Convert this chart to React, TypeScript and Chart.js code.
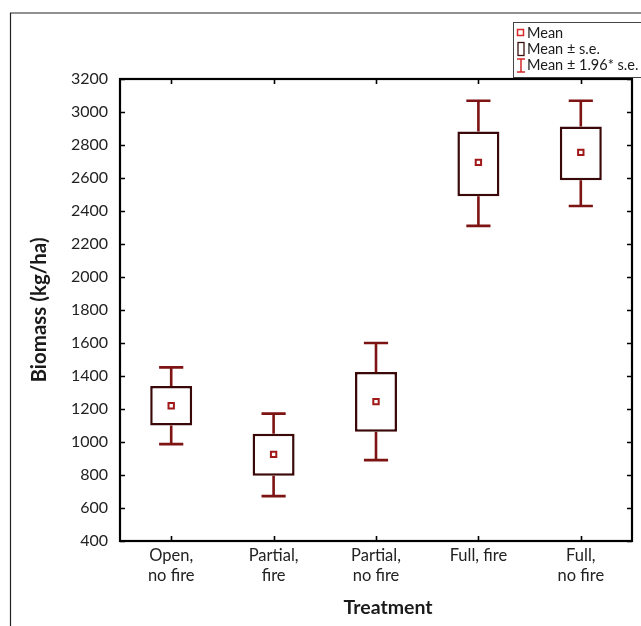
import React, { useEffect, useRef } from "react";
import { Chart, registerables } from "chart.js";

Chart.register(...registerables);

const categories: (string | string[])[] = [
  ["Open,", "no fire"],
  ["Partial,", "fire"],
  ["Partial,", "no fire"],
  "Full, fire",
  ["Full,", "no fire"],
];
const means = [1220, 925, 1245, 2695, 2755];
const seLow = [1100, 795, 1062, 2490, 2587];
const seHigh = [1340, 1050, 1425, 2882, 2912];
const ciLow = [987, 672, 890, 2310, 2430];
const ciHigh = [1452, 1172, 1600, 3068, 3068];
const yMin = 400;
const yMax = 3200;
const yStep = 200;
const xTitle = "Treatment";
const yTitle = "Biomass (kg/ha)";
const legendItems = ["Mean", "Mean \u00b1 s.e.", "Mean \u00b1 1.96* s.e."];

const BOX = "#3a0808";
const WHISK = "#7e1313";
const MEAN = "#a01818";
const LEG_RED = "#d42a2a";
const FONT = "Lato";

const decorPlugin = {
  id: "decor",
  afterDatasetsDraw(chart: any) {
    const ctx = chart.ctx;
    const xs = chart.scales.x;
    const ys = chart.scales.y;
    const catW = xs.getPixelForValue(1) - xs.getPixelForValue(0);
    const half = catW * 0.118;
    ctx.save();
    ctx.strokeStyle = WHISK;
    ctx.lineWidth = 2.6;
    ctx.lineCap = "butt";
    categories.forEach((_, i) => {
      const cx = xs.getPixelForValue(i);
      const yTop = ys.getPixelForValue(ciHigh[i]);
      const yBoxTop = ys.getPixelForValue(seHigh[i]);
      const yBoxBot = ys.getPixelForValue(seLow[i]);
      const yBot = ys.getPixelForValue(ciLow[i]);
      ctx.beginPath();
      ctx.moveTo(cx, yTop);
      ctx.lineTo(cx, yBoxTop);
      ctx.moveTo(cx, yBoxBot);
      ctx.lineTo(cx, yBot);
      ctx.moveTo(cx - half, yTop);
      ctx.lineTo(cx + half, yTop);
      ctx.moveTo(cx - half, yBot);
      ctx.lineTo(cx + half, yBot);
      ctx.stroke();
    });
    ctx.restore();
  },
  afterDraw(chart: any) {
    const ctx = chart.ctx;
    const ca = chart.chartArea;
    const xs = chart.scales.x;
    const ys = chart.scales.y;
    ctx.save();
    // outer page frame
    ctx.strokeStyle = "#6b6b6b";
    ctx.lineWidth = 1.5;
    ctx.beginPath();
    ctx.moveTo(10, 13);
    ctx.lineTo(641, 13);
    ctx.stroke();
    ctx.strokeStyle = "#222";
    ctx.lineWidth = 1.2;
    ctx.beginPath();
    ctx.moveTo(10.5, 13);
    ctx.lineTo(10.5, 626);
    ctx.stroke();

    // legend box
    const lx = 513.5;
    const ly = 22.5;
    ctx.fillStyle = "#fff";
    ctx.fillRect(lx, ly, 140, 55);
    ctx.strokeStyle = "#444";
    ctx.lineWidth = 1;
    ctx.strokeRect(lx, ly, 140, 55);
    ctx.font = `14.5px ${FONT}`;
    ctx.fillStyle = "#1a1a1a";
    ctx.textAlign = "left";
    ctx.textBaseline = "middle";
    const rowY = [33, 49, 65];
    legendItems.forEach((t, i) => ctx.fillText(t, 527, rowY[i]));
    // icon 1: mean square
    ctx.strokeStyle = LEG_RED;
    ctx.lineWidth = 1.5;
    ctx.strokeRect(517.5, 29.5, 6, 6);
    // icon 2: s.e. box
    ctx.strokeStyle = "#3a1010";
    ctx.lineWidth = 1.3;
    ctx.strokeRect(518, 42.5, 6, 13);
    // icon 3: I-beam
    ctx.strokeStyle = LEG_RED;
    ctx.lineWidth = 1.5;
    ctx.beginPath();
    ctx.moveTo(517, 59);
    ctx.lineTo(525, 59);
    ctx.moveTo(521, 59);
    ctx.lineTo(521, 72);
    ctx.moveTo(517, 72);
    ctx.lineTo(525, 72);
    ctx.stroke();

    // plot frame
    ctx.strokeStyle = "#000";
    ctx.lineWidth = 2.2;
    ctx.strokeRect(ca.left, ca.top, ca.right - ca.left, ca.bottom - ca.top);

    // inward ticks
    ctx.lineWidth = 1.6;
    ctx.beginPath();
    ys.ticks.forEach((t: any) => {
      const py = Math.round(ys.getPixelForValue(t.value)) + 0.5;
      ctx.moveTo(ca.left, py);
      ctx.lineTo(ca.left + 5, py);
      ctx.moveTo(ca.right, py);
      ctx.lineTo(ca.right - 5, py);
    });
    categories.forEach((_, i) => {
      const px = Math.round(xs.getPixelForValue(i)) + 0.5;
      ctx.moveTo(px, ca.bottom);
      ctx.lineTo(px, ca.bottom - 5);
      ctx.moveTo(px, ca.top);
      ctx.lineTo(px, ca.top + 5);
    });
    ctx.stroke();

    // x axis title
    ctx.font = `bold 19.5px ${FONT}`;
    ctx.fillStyle = "#1a1a1a";
    ctx.textAlign = "center";
    ctx.textBaseline = "middle";
    ctx.fillText(xTitle, (ca.left + ca.right) / 2 + 12, 608);
    ctx.restore();
  },
};

export default function App() {
  const ref = useRef<HTMLCanvasElement | null>(null);
  useEffect(() => {
    if (!ref.current) return;
    const chart = new Chart(ref.current, {
      type: "bar",
      data: {
        labels: categories as any,
        datasets: [
          {
            type: "line" as any,
            label: "Mean",
            data: means,
            showLine: false,
            pointStyle: "rect",
            pointRadius: 3.8,
            pointBorderWidth: 2,
            pointBorderColor: MEAN,
            pointBackgroundColor: "#fff",
            order: 0,
          } as any,
          {
            type: "bar",
            label: "Mean \u00b1 s.e.",
            data: seLow.map((l, i) => [l, seHigh[i]]) as any,
            backgroundColor: "#fff",
            borderColor: BOX,
            borderWidth: 2.5,
            borderSkipped: false,
            barPercentage: 0.41,
            categoryPercentage: 1,
            order: 1,
          } as any,
        ],
      },
      options: {
        animation: false,
        responsive: false,
        maintainAspectRatio: false,
        layout: { padding: { left: 0, top: 79, right: 9, bottom: 0 } },
        plugins: {
          legend: { display: false },
          tooltip: { enabled: false },
        },
        scales: {
          x: {
            type: "category",
            offset: true,
            grid: { display: false, drawTicks: false },
            border: { display: false },
            ticks: {
              color: "#222",
              font: { family: FONT, size: 16.5, lineHeight: 1.18 },
              padding: 5,
              maxRotation: 0,
              autoSkip: false,
            },
            afterFit: (s: any) => {
              s.height = 85;
            },
          },
          y: {
            type: "linear",
            min: yMin,
            max: yMax,
            grid: { display: false, drawTicks: false },
            border: { display: false },
            ticks: {
              stepSize: yStep,
              color: "#222",
              font: { family: FONT, size: 16 },
              padding: 12,
              callback: (v: any) => String(v),
            },
            title: {
              display: true,
              text: yTitle,
              color: "#1a1a1a",
              font: { family: FONT, size: 20.5, weight: "bold" },
              padding: { top: 27, bottom: 0 },
            },
            afterFit: (s: any) => {
              s.width = 120;
            },
          },
        },
      },
      plugins: [decorPlugin],
    });
    return () => chart.destroy();
  }, []);
  return (
    <div
      style={{
        position: "fixed",
        left: 0,
        top: 0,
        width: 641,
        height: 626,
        background: "#fff",
      }}
    >
      <canvas ref={ref} width={641} height={626} style={{ display: "block" }} />
    </div>
  );
}
